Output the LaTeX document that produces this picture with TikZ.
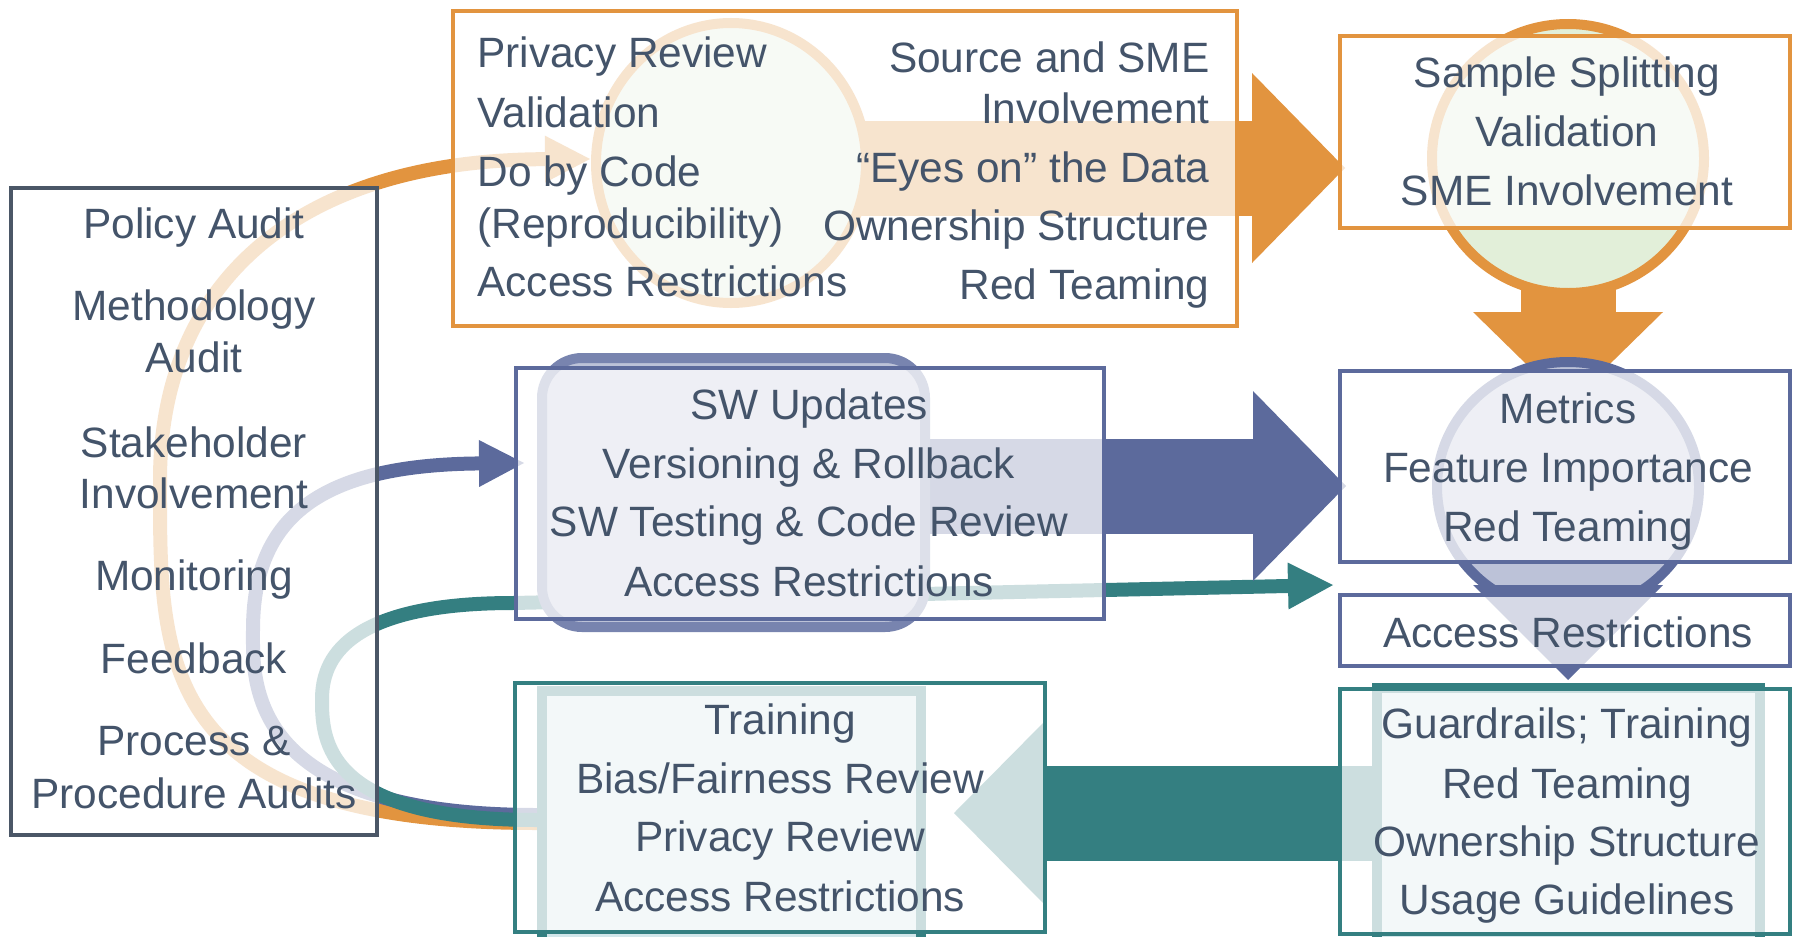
\documentclass[tikz,border=0pt]{standalone}
\usepackage{fontspec}
\setmainfont{Liberation Sans}
\usetikzlibrary{arrows.meta,fit,shapes.geometric}
\pgfdeclarelayer{under}
\pgfsetlayers{under,main}
\definecolor{ora}{HTML}{E2943F}
\definecolor{pur}{HTML}{5C6A9C}
\definecolor{purlt}{HTML}{7884AF}
\definecolor{purfill}{HTML}{BCC2D8}
\definecolor{tea}{HTML}{347F81}
\definecolor{teafill}{HTML}{D2E6EA}
\definecolor{grn}{HTML}{E2EFD9}
\definecolor{slate}{HTML}{4B5767}
\definecolor{ink}{HTML}{44546A}
\begin{document}
\begin{tikzpicture}[x=0.5pt,y=-0.5pt,
  box/.style={draw=#1, line width=2pt, fill=white, fill opacity=0.75, draw opacity=1, inner sep=0pt},
  loopline/.style={draw=#1, line width=7pt, -{Triangle[length=22.5pt,width=23.5pt,line width=0pt]}},
  block/.style={draw=#1, line width=47.5pt, -{Triangle[length=46.5pt,width=95pt,line width=0pt]}},
  blob/.style={ellipse, draw=#1, line width=5pt, fill=grn, inner sep=0pt},
  txt/.style={text=ink, inner sep=0pt, font=\fontsize{21.2}{25}\selectfont},
]
\useasboundingbox (0,0) rectangle (1794,937);

% anchor points of the feedback loops and block arrows
\coordinate (os) at (537,823);
\coordinate (oe) at (590,159);
\coordinate (ps) at (537,815);
\coordinate (pe) at (524,463);
\coordinate (ts) at (537,820);
\coordinate (tm) at (513,603);
\coordinate (te) at (1333,585);
\coordinate (oa) at (1345,168);
\coordinate (pa) at (1346,486);
\coordinate (ta) at (954,813);
\coordinate (od) at (1568,405);
\coordinate (pd) at (1568,680);

% inner shapes of each stage
\path (731,163) node[blob=ora, minimum width=135pt, minimum height=140pt] (tc) {};
\path (1568,158.5) node[blob=ora, minimum width=136pt, minimum height=134.5pt] (sc) {};
\path (1568,487) node[ellipse, draw=pur, line width=5pt, fill=purfill, minimum width=131pt, minimum height=125pt] (rc) {};
\node[fit={(542,358) (925,627)}, inner sep=0pt, draw=purlt, line width=5pt, fill=purfill, rounded corners=20pt] (mr) {};
\node[fit={(542,691) (921,990)}, inner sep=0pt, draw=tea, line width=5pt, fill=teafill] (bi) {};
\node[fit={(1377,688) (1760,990)}, inner sep=0pt, draw=tea, line width=5pt, fill=teafill] (gi) {};

% feedback loops and block arrows run underneath the shapes
\begin{pgfonlayer}{under}
  \draw[loopline=ora] (os) .. controls (154,823) and (160,660) .. (160,480)
        .. controls (160,280) and (300,160) .. (oe);
  \draw[loopline=pur] (ps) .. controls (244,815) and (253,680) .. (253,630)
        .. controls (253,517) and (320,465) .. (pe);
  \draw[loopline=tea] (ts) .. controls (325,820) and (322,740) .. (322,700)
        .. controls (322,669) and (333,603) .. (tm) -- (te);
  \draw[block=ora] (tc.center |- oa) -- (oa);
  \draw[block=pur] (mr.center |- pa) -- (pa);
  \draw[block=tea, -{Triangle[length=45pt,width=91pt,line width=0pt]}] (gi.center |- ta) -- (ta);
  \draw[block=ora] (sc.center) -- (od);
\end{pgfonlayer}

% head of the arrow from the metrics stage down to the guardrails stage
\fill[pur] (1473,585) -- (1663,585) -- (pd) -- cycle;

% stage boxes
\node[box=slate, fit={(11,188) (377,835)}] (L) {};
\node[box=ora, fit={(453,11) (1237,326)}] (T) {};
\node[box=ora, fit={(1340,36) (1790,228)}] (S) {};
\node[box=pur, fit={(516,368) (1104,619)}] (M) {};
\node[box=pur, fit={(1340,371) (1790,562)}] (R) {};
\node[box=pur, fit={(1340,595) (1790,666)}] (A) {};
\node[box=tea, fit={(515,683) (1045,932)}] (B) {};
\node[box=tea, fit={(1340,689) (1790,934)}] (G) {};

% audit column
\node[txt, anchor=base] (l1) at (194,238) {Policy Audit};
\node[txt, anchor=base] (l2) at (194,320) {Methodology};
\node[txt, anchor=base] (l3) at (194,372) {Audit};
\node[txt, anchor=base] (l4) at (194,457) {Stakeholder};
\node[txt, anchor=base] (l5) at (194,508) {Involvement};
\node[txt, anchor=base] (l6) at (194,590) {Monitoring};
\node[txt, anchor=base] (l7) at (194,673) {Feedback};
\node[txt, anchor=base] (l8) at (194,755) {Process \&};
\node[txt, anchor=base] (l9) at (194,808) {Procedure Audits};

% data stage
\node[txt, anchor=base west] (d1) at (477,68) {Privacy Review};
\node[txt, anchor=base west] (d2) at (477,127) {Validation};
\node[txt, anchor=base west] (d3) at (477,186) {Do by Code};
\node[txt, anchor=base west] (d4) at (477,238) {(Reproducibility)};
\node[txt, anchor=base west] (d5) at (477,296) {Access Restrictions};
\node[txt, anchor=base east] (d6) at (1210,72) {Source and SME};
\node[txt, anchor=base east] (d7) at (1210,123) {Involvement};
\node[txt, anchor=base east] (d8) at (1210,182) {“Eyes on” the Data};
\node[txt, anchor=base east] (d9) at (1210,240) {Ownership Structure};
\node[txt, anchor=base east] (d10) at (1210,299) {Red Teaming};

% model building stage
\node[txt, anchor=base] (s1) at (1567,87) {Sample Splitting};
\node[txt, anchor=base] (s2) at (1567,146) {Validation};
\node[txt, anchor=base] (s3) at (1567,205) {SME Involvement};

% software stage
\node[txt, anchor=base] (m1) at (809,419) {SW Updates};
\node[txt, anchor=base] (m2) at (809,478) {Versioning \& Rollback};
\node[txt, anchor=base] (m3) at (809,536) {SW Testing \& Code Review};
\node[txt, anchor=base] (m4) at (809,596) {Access Restrictions};

% evaluation stage
\node[txt, anchor=base] (r1) at (1568,423) {Metrics};
\node[txt, anchor=base] (r2) at (1568,482) {Feature Importance};
\node[txt, anchor=base] (r3) at (1568,541) {Red Teaming};
\node[txt, anchor=base] (a1) at (1568,647) {Access Restrictions};

% deployment stage
\node[txt, anchor=base] (g1) at (1567,738) {Guardrails; Training};
\node[txt, anchor=base] (g2) at (1567,798) {Red Teaming};
\node[txt, anchor=base] (g3) at (1567,856) {Ownership Structure};
\node[txt, anchor=base] (g4) at (1567,914) {Usage Guidelines};

% use stage
\node[txt, anchor=base] (b1) at (780,734) {Training};
\node[txt, anchor=base] (b2) at (780,793) {Bias/Fairness Review};
\node[txt, anchor=base] (b3) at (780,851) {Privacy Review};
\node[txt, anchor=base] (b4) at (780,911) {Access Restrictions};
\end{tikzpicture}
\end{document}
